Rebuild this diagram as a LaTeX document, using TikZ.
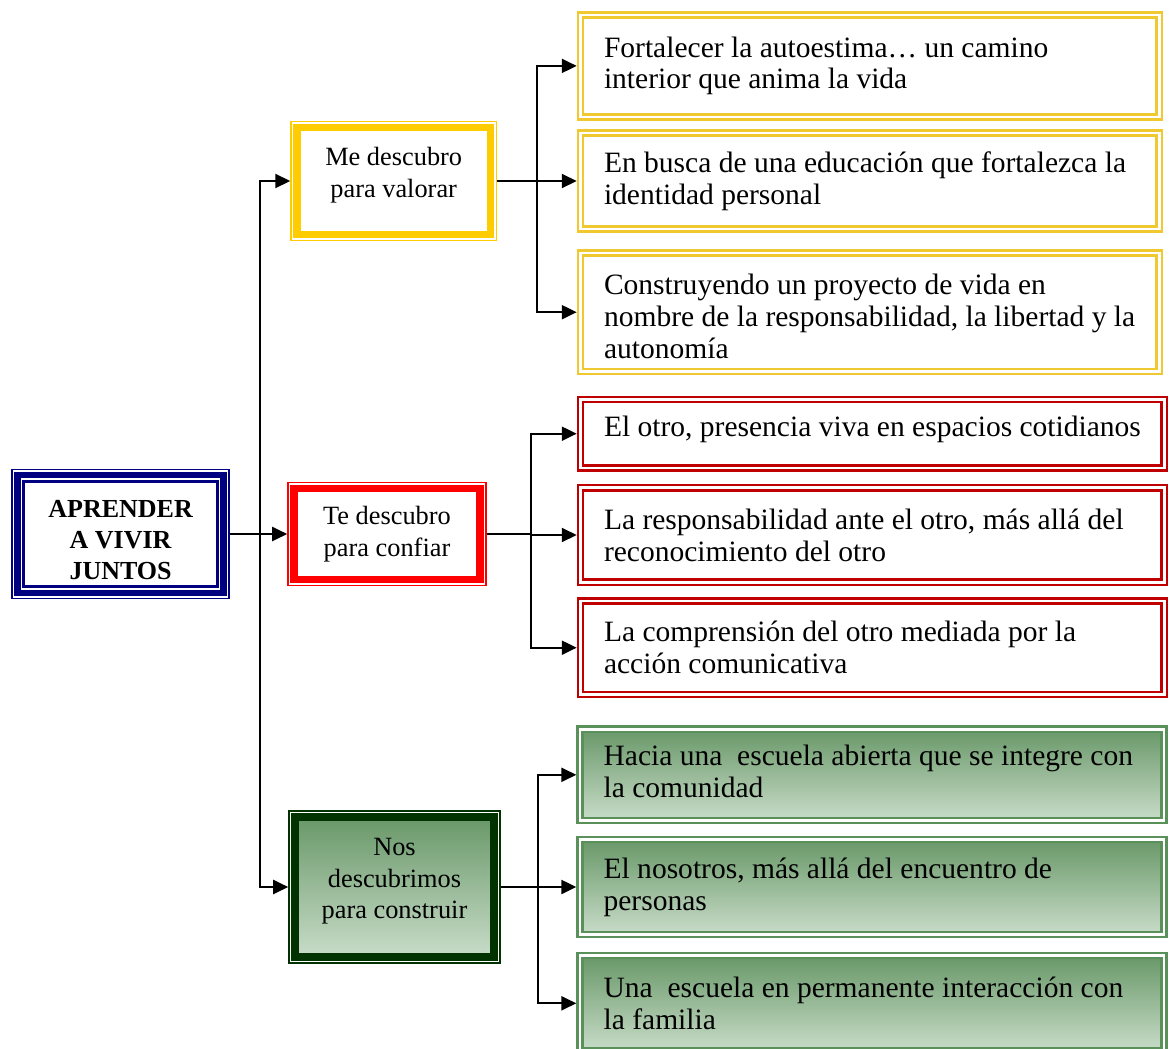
\documentclass[tikz,border=0pt]{standalone}
\usepackage{fontspec}
\setmainfont{Liberation Serif}
\usetikzlibrary{arrows.meta}
\definecolor{navyframe}{HTML}{000080}
\definecolor{goldframe}{HTML}{FFCC00}
\definecolor{goldleaf}{HTML}{F0C930}
\definecolor{redframe}{HTML}{FF0000}
\definecolor{redleaf}{HTML}{C00000}
\definecolor{greenframe}{HTML}{003300}
\definecolor{greenleaf}{HTML}{5A915A}
\definecolor{greentop}{HTML}{699869}
\definecolor{greenbot}{HTML}{C8DCC8}
\tikzset{
  link/.style={line width=1.1pt},
  arrowlink/.style={line width=1.1pt, -{Triangle[length=8.5pt,width=8pt]}},
  rootbox/.style={draw=navyframe, fill=white, line width=1.5pt, outer sep=7.2pt,
    align=center, font=\bfseries\fontsize{14.8}{17.6}\selectfont,
    preaction={draw=navyframe, line width=14.45pt},
    preaction={draw=white, line width=12.5pt},
    preaction={draw=navyframe, line width=11pt},
    preaction={draw=white, line width=3.4pt}},
  midbox/.style={draw=#1, line width=4.2pt, outer sep=3.9pt,
    align=center, font=\fontsize{15}{18}\selectfont,
    preaction={draw=#1, line width=7.9pt},
    preaction={draw=white, line width=5.9pt}},
  leafbox/.style={draw=#1, line width=1.45pt, double=white, double distance=1.45pt,
    outer sep=2.2pt, align=flush left, inner xsep=4.55pt,
    font=\fontsize{16.8}{18.2}\selectfont, execute at begin node={\leftskip=8.8pt}},
  narrowleaf/.style={text width=11.256cm},
  wideleaf/.style={text width=11.356cm}
}
\begin{document}
\begin{tikzpicture}[x=0.02cm, y=-0.02cm]
\useasboundingbox (0,0) rectangle (1169,1048);

\node[rootbox, minimum width=3.876cm, minimum height=2.112cm, text height=51.5pt] (root) at (120.6,534) {APRENDER\\A VIVIR\\JUNTOS};

\node[midbox=goldframe, fill=white, minimum width=3.866cm, minimum height=2.14cm, text depth=10pt] (mevalor) at (393.7,181) {Me descubro\\para valorar};
\node[midbox=redframe, fill=white, minimum width=3.72cm, minimum height=1.814cm] (teconf) at (387,534) {Te descubro\\para confiar};
\node[midbox=greenframe, top color=greentop, bottom color=greenbot, minimum width=3.98cm, minimum height=2.794cm, text depth=9.5pt] (nosconst) at (394.5,887) {Nos\\descubrimos\\para construir};

\node[leafbox=goldleaf, fill=white, narrowleaf, minimum height=2.044cm] (y1) at (869.9,65.9) {Fortalecer la autoestima… un camino\\interior que anima la vida};
\node[leafbox=goldleaf, fill=white, narrowleaf, minimum height=1.92cm] (y2) at (869.9,181) {En busca de una educación que fortalezca la\\identidad personal};
\node[leafbox=goldleaf, fill=white, narrowleaf, minimum height=2.366cm, text height=16pt] (y3) at (869.9,312.2) {Construyendo un proyecto de vida en\\nombre de la responsabilidad, la libertad y la\\autonomía};

\node[leafbox=redleaf, fill=white, wideleaf, minimum height=1.372cm, text depth=8.2pt] (r1) at (872.4,433.7) {El otro, presencia viva en espacios cotidianos};
\node[leafbox=redleaf, fill=white, wideleaf, minimum height=1.89cm] (r2) at (872.4,535) {La responsabilidad ante el otro, más allá del\\reconocimiento del otro};
\node[leafbox=redleaf, fill=white, wideleaf, minimum height=1.866cm] (r3) at (872.4,647.7) {La comprensión del otro mediada por la\\acción comunicativa};

\node[leafbox=greenleaf, top color=greentop, bottom color=greenbot, wideleaf, minimum height=1.822cm, text depth=22pt] (g1) at (872,774.8) {Hacia una~ escuela abierta que se integre con\\la comunidad};
\node[leafbox=greenleaf, top color=greentop, bottom color=greenbot, wideleaf, minimum height=1.896cm] (g2) at (872,887) {El nosotros, más allá del encuentro de\\personas};
\node[leafbox=greenleaf, top color=greentop, bottom color=greenbot, wideleaf, minimum height=1.912cm] (g3) at (872,1003.3) {Una~ escuela en permanente interacción con\\la familia};

\coordinate (fork) at (260,534);
\draw[arrowlink] (root.east) -- (teconf.west);
\draw[arrowlink] (fork) |- (mevalor.west);
\draw[arrowlink] (fork) |- (nosconst.west);

\coordinate (forky) at (537,181);
\draw[link] (mevalor.east) -- (forky);
\draw[arrowlink] (forky) |- (y1.west);
\draw[arrowlink] (forky) -- (y2.west);
\draw[arrowlink] (forky) |- (y3.west);

\coordinate (forkr) at (531,534);
\draw[link] (teconf.east) -- (forkr);
\draw[arrowlink] (forkr) |- (r1.west);
\draw[arrowlink] (forkr) |- (r2.west);
\draw[arrowlink] (forkr) |- (r3.west);

\coordinate (forkg) at (538,887);
\draw[link] (nosconst.east) -- (forkg);
\draw[arrowlink] (forkg) |- (g1.west);
\draw[arrowlink] (forkg) -- (g2.west);
\draw[arrowlink] (forkg) |- (g3.west);
\end{tikzpicture}
\end{document}
